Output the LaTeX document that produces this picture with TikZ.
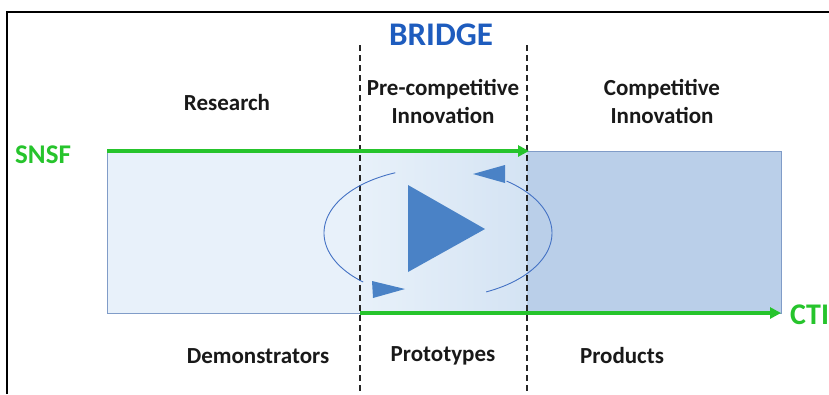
\documentclass[tikz,border=0pt]{standalone}
\usepackage{fontspec}
\setmainfont{Carlito}
\usetikzlibrary{arrows.meta}
\definecolor{grn}{RGB}{38,196,44}
\definecolor{bridgeblue}{RGB}{30,92,190}
\definecolor{lightbox}{RGB}{232,241,250}
\definecolor{midbox}{RGB}{212,227,243}
\definecolor{darkbox}{RGB}{186,207,233}
\definecolor{boxedge}{RGB}{128,156,200}
\definecolor{triblue}{RGB}{74,130,198}
\definecolor{arcblue}{RGB}{68,114,196}
\tikzset{
  lbl/.style={font=\bfseries\fontsize{23}{28}\selectfont, align=center, inner sep=0pt, text=black!90},
  greenarrow/.style={draw=grn, line width=4pt, -{Triangle[length=11pt,width=11pt]}},
  divider/.style={draw=black!85, line width=1.4pt, dash pattern=on 6pt off 4pt},
  loop/.style={draw=arcblue, line width=0.9pt},
  tri/.style={fill=triblue, draw=none}
}
\begin{document}
\begin{tikzpicture}[x=1pt,y=-1pt]
\useasboundingbox (0,0) rectangle (829,394);
\fill[white] (0,0) rectangle (829,394);
% frame
\draw[line width=2.5pt, black] (7,394) -- (7,12) -- (829,12);
% boxes
\fill[lightbox] (107,151) rectangle (360,313);
\shade[left color=lightbox, right color=midbox] (360,151) rectangle (527,313);
\fill[darkbox] (527,151) rectangle (781,313);
\draw[boxedge, line width=0.8pt] (107,151) rectangle (781,313);
% dividers
\coordinate (d1t) at (360,45); \coordinate (d1b) at (360,394);
\coordinate (d2t) at (527,45); \coordinate (d2b) at (527,394);
\draw[divider] (d1t) -- (d1b);
\draw[divider] (d2t) -- (d2b);
% loop arcs
\draw[loop, domain=112:229, smooth, samples=50] plot ({438+114*cos(\x)}, {233-65*sin(\x)});
\draw[loop, domain=-65:53, smooth, samples=50] plot ({438+114*cos(\x)}, {233-65*sin(\x)});
\fill[tri] (372,281) -- (373,298) -- (405,289) -- cycle;
\fill[tri] (505,165) -- (505,183) -- (473,174) -- cycle;
\fill[tri] (408,185) -- (408,272) -- (485,229) -- cycle;
% green arrows
\coordinate (g1s) at (107,151); \coordinate (g1e) at (529,151);
\coordinate (g2s) at (360,313); \coordinate (g2e) at (781,313);
\draw[greenarrow] (g1s) -- (g1e);
\draw[greenarrow] (g2s) -- (g2e);
% texts
\node[font=\bfseries\fontsize{33}{36}\selectfont, text=bridgeblue, inner sep=0pt] (bridge) at (441,35) {BRIDGE};
\node[lbl] (research) at (227,103) {Research};
\node[lbl] (precomp) at (443,101) {Pre-competitive\\Innovation};
\node[lbl] (comp) at (662,101) {Competitive\\Innovation};
\node[lbl] (demo) at (258,356) {Demonstrators};
\node[lbl] (proto) at (443,356) {Prototypes};
\node[lbl] (prod) at (622,356) {Products};
\node[font=\bfseries\fontsize{27}{30}\selectfont, text=grn, inner sep=0pt, anchor=west] (snsf) at (15,155) {SNSF};
\node[font=\bfseries\fontsize{30}{32}\selectfont, text=grn, inner sep=0pt, anchor=west] (cti) at (790,315) {CTI};
\end{tikzpicture}
\end{document}
